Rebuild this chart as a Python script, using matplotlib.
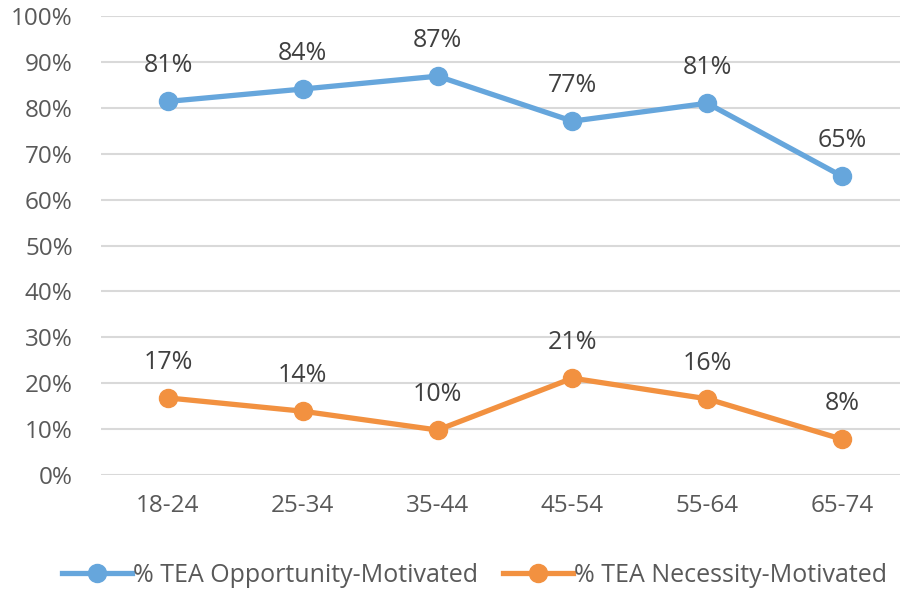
import matplotlib
matplotlib.use('Agg')
import matplotlib.pyplot as plt
from matplotlib.ticker import PercentFormatter

plt.rcParams['font.family'] = ['Open Sans', 'DejaVu Sans']

age_groups = ['18-24', '25-34', '35-44', '45-54', '55-64', '65-74']
opportunity = [81.4, 84.1, 86.9, 77.1, 81.0, 65.1]
necessity = [16.8, 13.9, 9.8, 21.1, 16.6, 7.8]
opportunity_labels = ['81%', '84%', '87%', '77%', '81%', '65%']
necessity_labels = ['17%', '14%', '10%', '21%', '16%', '8%']

BLUE = '#66A6DC'
ORANGE = '#F29140'
TICK_CLR = '#595959'
LABEL_CLR = '#404040'

fig = plt.figure(figsize=(9, 5.92), dpi=100)
ax = fig.add_axes([0.1118, 0.1976, 0.8987, 0.7753])

x = list(range(len(age_groups)))
ax.plot(x, opportunity, color=BLUE, lw=3.8, marker='o', ms=13,
        label='% TEA Opportunity-Motivated', zorder=3)
ax.plot(x, necessity, color=ORANGE, lw=3.8, marker='o', ms=13,
        label='% TEA Necessity-Motivated', zorder=3)

# data labels above each point
for xi, v, t in zip(x, opportunity, opportunity_labels):
    ax.annotate(t, (xi, v), xytext=(0, 25.5), textcoords='offset points',
                ha='center', va='center', fontsize=18, color=LABEL_CLR)
for xi, v, t in zip(x, necessity, necessity_labels):
    ax.annotate(t, (xi, v), xytext=(0, 25.5), textcoords='offset points',
                ha='center', va='center', fontsize=18, color=LABEL_CLR)

ax.set_xlim(-0.5, 5.5)
ax.set_ylim(0, 100)
ax.set_yticks(range(0, 101, 10))
ax.yaxis.set_major_formatter(PercentFormatter(decimals=0))
ax.set_xticks(x)
ax.set_xticklabels(age_groups)
ax.tick_params(length=0, labelsize=17.5, colors=TICK_CLR)
ax.tick_params(axis='y', pad=20)
ax.tick_params(axis='x', pad=14)
ax.grid(axis='y', color='#D9D9D9', lw=1.5)
ax.set_axisbelow(True)
for s in ax.spines.values():
    s.set_visible(False)

leg = fig.legend(loc='center', bbox_to_anchor=(0.527, 0.028), ncol=2,
                 frameon=False, fontsize=18, handlelength=2.8,
                 columnspacing=1.0, handletextpad=0.05)
for t in leg.get_texts():
    t.set_color(TICK_CLR)

fig.savefig('out.png', dpi=100)
